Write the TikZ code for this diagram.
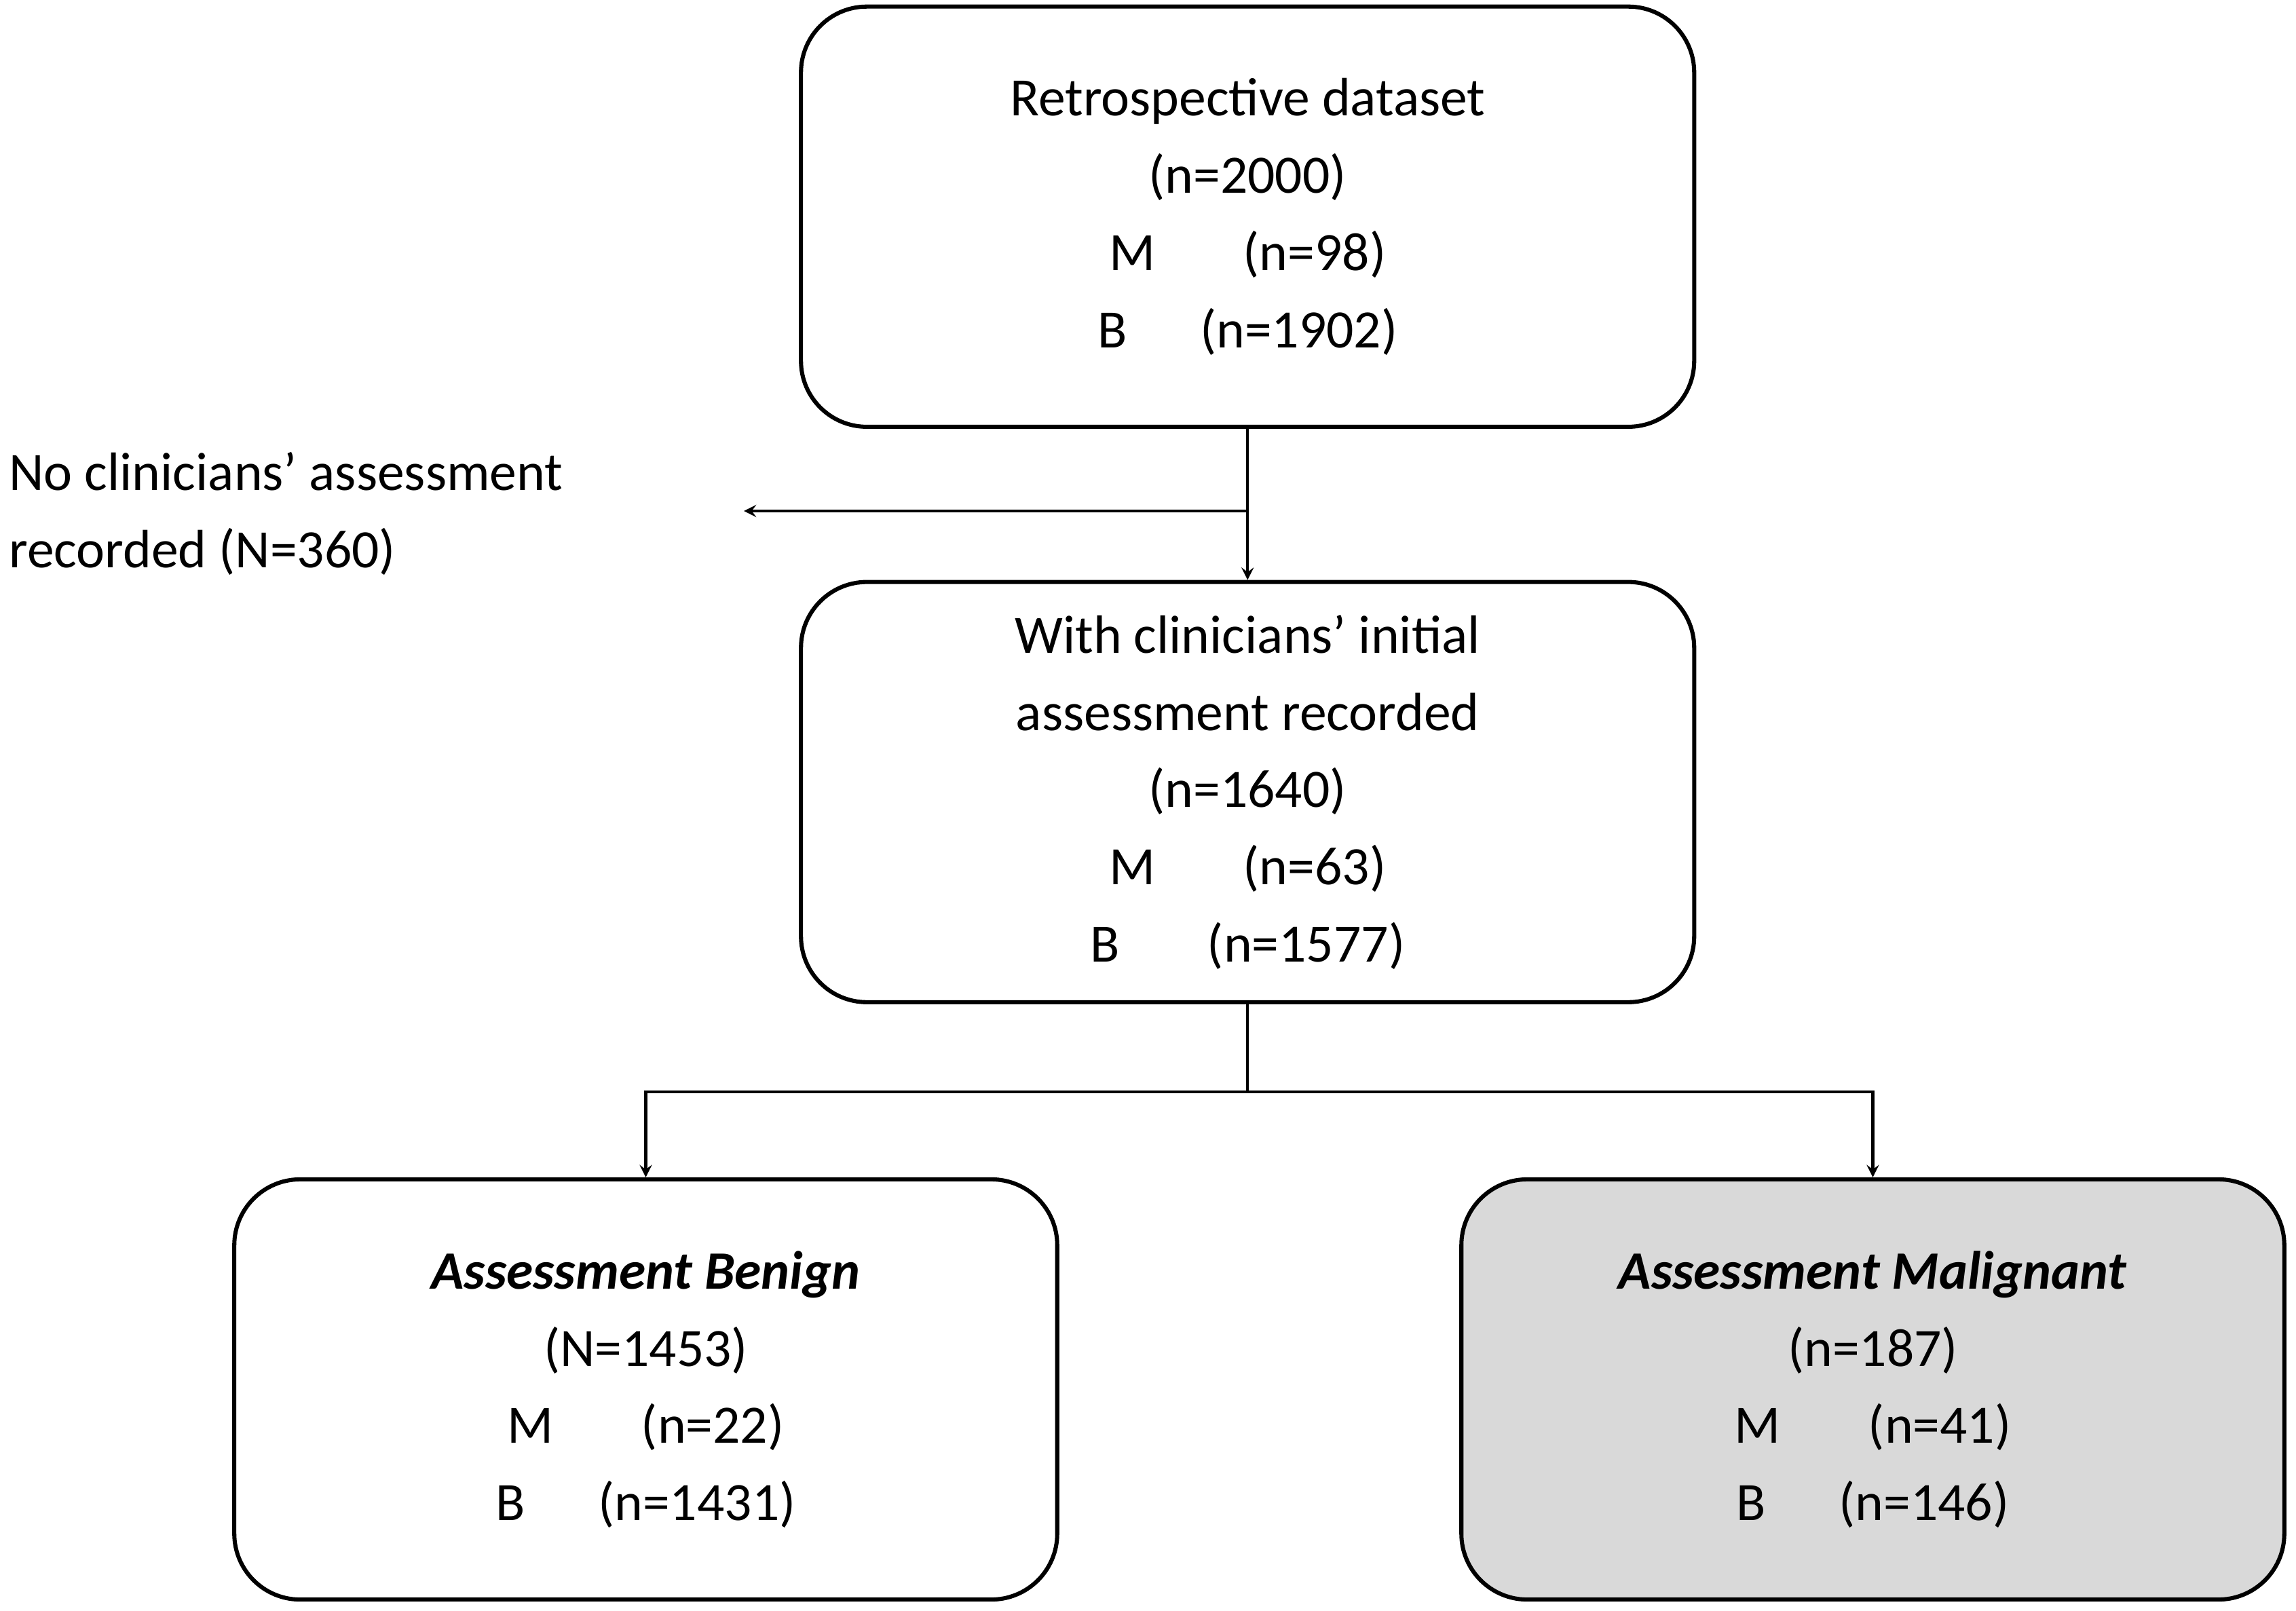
\documentclass[tikz,border=0pt]{standalone}
\usepackage{fontspec}
\setmainfont{Carlito}
\usetikzlibrary{positioning, arrows}
\tikzset{
    flow_box/.style={rectangle, rounded corners=0.9cm, minimum width=12.2cm, minimum height=5.74cm, text centered, align=center, draw=black, line width=1.6pt},
    out_box/.style={flow_box, minimum width=11.24cm},
    arrow/.style={line width=1.1pt, ->, >=stealth},
    line/.style={line width=1.1pt},
}
\begin{document}
\begin{tikzpicture}[font=\fontsize{21}{30}\selectfont]
      \useasboundingbox (0,0) rectangle (31.36,-22);
      % main boxes
      \node (retro) [flow_box] at (17.04,-2.96)
            {Retrospective dataset\\(n=2000)\\M\hspace{1.2cm}(n=98)\\B\hspace{1cm}(n=1902)};
      \node (initial) [flow_box] at (17.04,-10.82)
            {With clinicians' initial\\assessment recorded\\(n=1640)\\M\hspace{1.2cm}(n=63)\\B\hspace{1.2cm}(n=1577)};
      % outcome boxes
      \node (benign) [out_box] at (8.82,-18.98)
            {\textbf{\textit{Assessment Benign}}\\(N=1453)\\M\hspace{1.2cm}(n=22)\\B\hspace{1cm}(n=1431)};
      \node (malignant) [out_box, fill=black!15] at (25.58,-18.98)
            {\textbf{\textit{Assessment Malignant}}\\(n=187)\\M\hspace{1.2cm}(n=41)\\B\hspace{1cm}(n=146)};
      % excluded
      \node (excluded) [anchor=west, align=left] at (0,-7.02)
            {No clinicians' assessment\\recorded (N=360)};
      \coordinate (junction) at (17.04,-6.98);
      \coordinate (excl_end) at (10.16,-6.98);
      \draw [arrow] (retro) -- (initial);
      \draw [arrow] (junction) -- (excl_end);
      \draw [line] (initial.south) -- ++(0,-1.2) coordinate (split);
      \draw [arrow] (split) -| (benign.north);
      \draw [arrow] (split) -| (malignant.north);
\end{tikzpicture}
\end{document}
